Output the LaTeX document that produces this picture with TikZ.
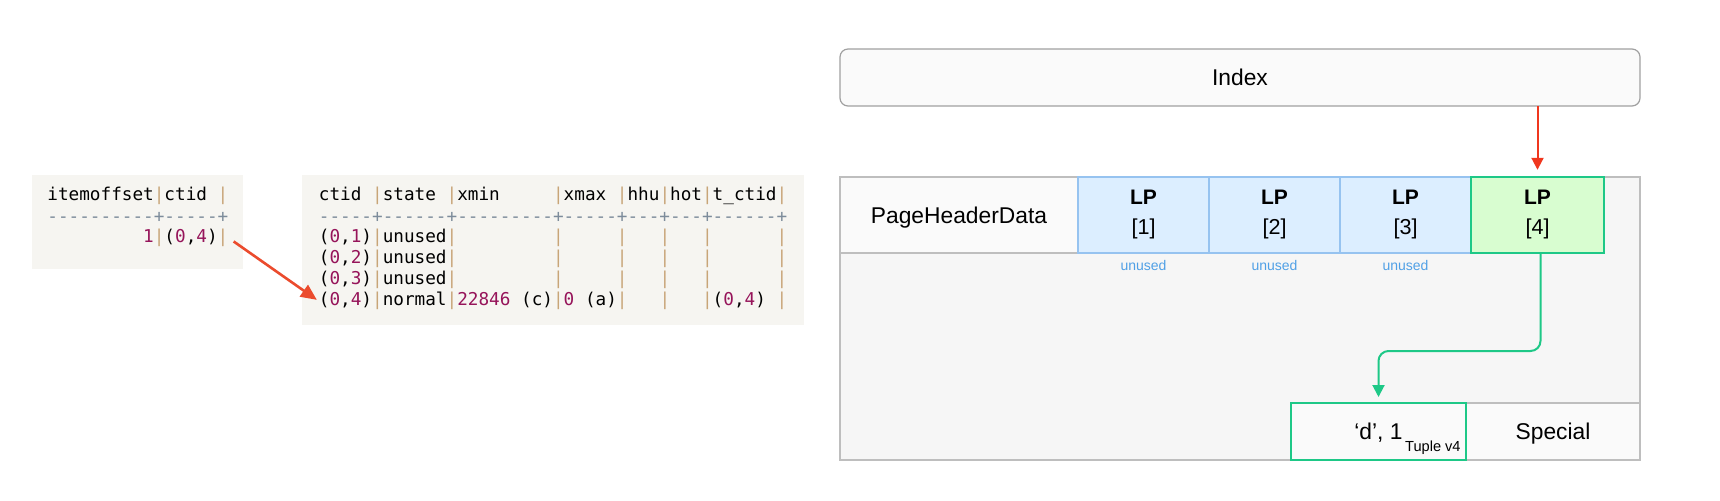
\documentclass[tikz,border=0pt]{standalone}
\usepackage{fontspec}
\setmainfont{Liberation Sans}
\setmonofont{DejaVu Sans Mono}
\usetikzlibrary{positioning,arrows.meta}

\definecolor{tblbg}{RGB}{246,245,241}
\definecolor{numc}{RGB}{150,20,90}
\definecolor{barc}{RGB}{200,165,120}
\definecolor{dashc}{RGB}{125,140,155}
\definecolor{pagebg}{RGB}{246,246,246}
\definecolor{pageline}{RGB}{190,190,190}
\definecolor{cellbg}{RGB}{250,250,250}
\definecolor{idxline}{RGB}{160,160,160}
\definecolor{lpbg}{RGB}{220,238,255}
\definecolor{lpline}{RGB}{150,195,240}
\definecolor{lpgreen}{RGB}{216,253,208}
\definecolor{okgreen}{RGB}{30,200,135}
\definecolor{unusedc}{RGB}{80,160,230}
\definecolor{idxred}{RGB}{240,55,30}
\definecolor{ctidred}{RGB}{235,75,45}

\newcommand{\vb}{\textcolor{barc}{|}}
\newcommand{\nm}[1]{\textcolor{numc}{#1}}

\begin{document}
\begin{tikzpicture}[x=0.5pt,y=-0.5pt,node distance=65.5pt,
    tab row/.style={anchor=west,inner sep=0pt,font=\ttfamily\fontsize{8.84}{10.5}\selectfont},
    tab bg/.style={rectangle,fill=tblbg,inner sep=0pt},
    page cell/.style={rectangle,draw=pageline,line width=0.8pt,fill=cellbg,outer sep=0pt,
        minimum height=28.5pt,text depth=0pt,font=\fontsize{11.4}{13}\selectfont},
    lp node/.style={rectangle,draw=lpline,line width=0.8pt,fill=lpbg,minimum width=65.5pt,
        minimum height=38pt,align=center,font=\fontsize{10.8}{15}\selectfont},
    unused lbl/.style={inner sep=0pt,text=unusedc,font=\fontsize{7}{8}\selectfont},
    ctid arrow/.style={draw=ctidred,line width=1.3pt,-{Triangle[length=8pt,width=7pt]},
        shorten <=3pt,shorten >=1pt}]
    \useasboundingbox (0,0) rectangle (1720,500);

    % line pointer tables
    \node [tab bg, minimum width=105.5pt, minimum height=47pt](ltab) at (137.5,222) {};
    \node [tab row](lhead) at (47,196) {itemoffset\vb ctid~\vb};
    \node [tab row, text=dashc](ldash) at (47,217) {----------+-----+};
    \node [tab row](lrow) at (47,238) {~~~~~~~~~\nm{1}\vb(\nm{0},\nm{4})\vb};

    \node [tab bg, minimum width=251pt, minimum height=75pt](rtab) at (553,250) {};
    \node [tab row](rhead) at (318.5,196) {ctid~\vb state~\vb xmin~~~~~\vb xmax~\vb hhu\vb hot\vb t\_ctid\vb};
    \node [tab row, text=dashc](rdash) at (318.5,217) {-----+------+---------+-----+---+---+------+};
    \node [tab row](rrow1) at (318.5,238) {(\nm{0},\nm{1})\vb unused\vb~~~~~~~~~\vb~~~~~\vb~~~\vb~~~\vb~~~~~~\vb};
    \node [tab row](rrow2) at (318.5,259) {(\nm{0},\nm{2})\vb unused\vb~~~~~~~~~\vb~~~~~\vb~~~\vb~~~\vb~~~~~~\vb};
    \node [tab row](rrow3) at (318.5,280) {(\nm{0},\nm{3})\vb unused\vb~~~~~~~~~\vb~~~~~\vb~~~\vb~~~\vb~~~~~~\vb};
    \node [tab row](rrow4) at (318.5,301) {(\nm{0},\nm{4})\vb normal\vb\nm{22846}~(c)\vb\nm{0}~(a)\vb~~~\vb~~~\vb(\nm{0},\nm{4})~\vb};

    \draw [ctid arrow] (lrow.east) -- (rrow4.west);

    % heap page
    \node [page cell, draw=idxline, line width=0.6pt, rounded corners=4pt, minimum width=400pt](idx) at (1240,77.5) {Index};
    \node [rectangle, draw=pageline, line width=0.8pt, fill=pagebg, minimum width=400pt, minimum height=141.5pt](page) at (1240,318.5) {};
    \node [page cell, minimum width=119pt, minimum height=38pt](phd) at (959,215) {PageHeaderData};

    \node [lp node](lp1) at (1143.5,215) {{\fontsize{10.5}{15}\selectfont\bfseries LP}\\{[1]}};
    \node [lp node](lp2) [right of=lp1] {{\fontsize{10.5}{15}\selectfont\bfseries LP}\\{[2]}};
    \node [lp node](lp3) [right of=lp2] {{\fontsize{10.5}{15}\selectfont\bfseries LP}\\{[3]}};
    \node [lp node, fill=lpgreen, draw=okgreen, line width=1.2pt, minimum width=66.5pt](lp4) [right of=lp3, xshift=0.5pt] {{\fontsize{10.5}{15}\selectfont\bfseries LP}\\{[4]}};

    \node [unused lbl](u1) [below=3pt of lp1] {unused};
    \node [unused lbl](u2) [below=3pt of lp2] {unused};
    \node [unused lbl](u3) [below=3pt of lp3] {unused};

    \node [page cell, minimum width=87pt](spec) at (1553,431.5) {Special};
    \node [page cell, draw=okgreen, line width=1.2pt, minimum width=87.5pt](tup) [left=0pt of spec] {‘d’, 1};
    \node [anchor=east, inner sep=0pt, font=\fontsize{7.3}{8}\selectfont](tupname) at (1461,448) {Tuple v4};

    \coordinate (turn) at (1379,351);
    \draw [draw=idxred, line width=1pt, -{Triangle[length=6pt,width=6pt]}, shorten >=3pt] (idx.south -| lp4) -- (lp4.north);
    \draw [draw=okgreen, line width=1pt, rounded corners=5pt, -{Triangle[length=6pt,width=6pt]}, shorten >=3pt]
        ([xshift=1.5pt]lp4.south) -- ([xshift=1.5pt]lp4.south |- turn) -| (tup.north);
\end{tikzpicture}
\end{document}
